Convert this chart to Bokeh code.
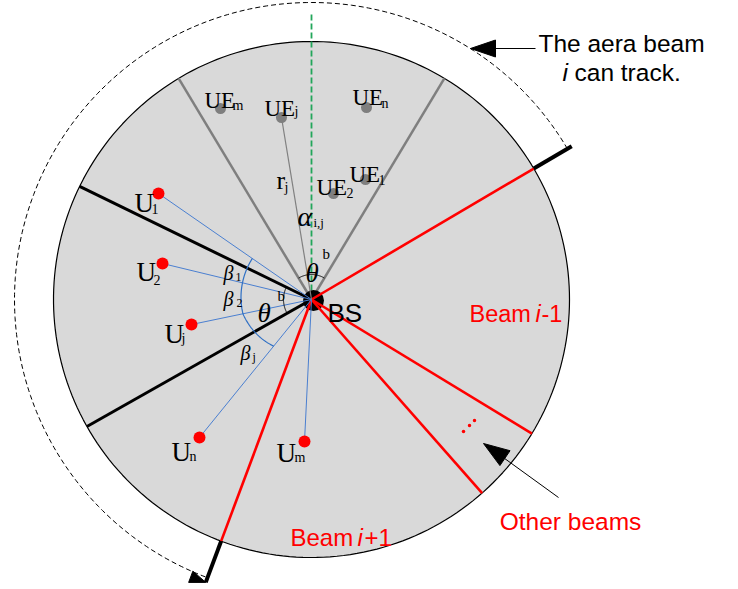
import numpy as np
from bokeh.plotting import figure
from bokeh.models import Range1d
from bokeh.core.properties import value
from bokeh.embed import file_html
from bokeh.resources import INLINE

# ---------------- diagram data (image coordinates, y downwards) ----------------
bs_x, bs_y = 311, 299
cell_radius = 258
track_radius = 297
gray_sector_angles = [121.0, 59.0]          # beam sector of the UEs (theta^b)
black_sector_angles = [154.0, 209.5]        # beam i sector (theta^b)
red_beam_angles = [30.5, -31.3, -48.6, 249.5]
track_start_angle, track_end_angle = 30.5, 249.5
tick_inner, tick_outer = 258, 302
green_axis_len = 287

ue_subs = ["m", "j", "n", "1", "2"]
ue_x = [220, 281, 366, 365, 333]
ue_y = [108, 117, 107, 179, 193]
ue_label_x = [204, 264, 352, 349, 316]
ue_label_y = [100, 108, 97, 174, 187]
ue_sub_x = [232, 294, 381, 378, 346]
ue_sub_y = [105, 111, 103, 179, 192]

u_subs = ["1", "2", "j", "n", "m"]
u_x = [158, 162, 191, 199, 304]
u_y = [193, 263, 324, 437, 441]
u_label_x = [134, 136, 164, 171, 276]
u_label_y = [202, 271, 333, 451, 452]
u_sub_x = [151, 153, 181, 189, 294]
u_sub_y = [208, 279, 338, 456, 457]

beta_subs = ["1", "2", "j"]
beta_x = [223, 223, 240]
beta_y = [272, 298, 352]
beta_sub_x = [235, 236, 252]
beta_sub_y = [276, 302, 356]
beta_r0 = [72, 71, 70]
beta_r1 = [71, 70, 60]

W, H = 738, 589

p = figure(width=W, height=H, output_backend="svg", toolbar_location=None,
           x_range=Range1d(0, W), y_range=Range1d(H, 0),
           x_axis_location=None, y_axis_location=None, min_border=0,
           background_fill_color="white", border_fill_color="white")
p.grid.visible = False
p.outline_line_color = None


def pt(a, r):
    t = np.radians(a)
    return bs_x + r * np.cos(t), bs_y - r * np.sin(t)


def arc(a0, a1, r0, r1, n=80):
    a = np.linspace(a0, a1, n)
    r = np.linspace(r0, r1, n)
    t = np.radians(a)
    return list(bs_x + r * np.cos(t)), list(bs_y - r * np.sin(t))


def head(tx, ty, dx, dy, length, half):
    n = np.hypot(dx, dy)
    ux, uy = dx / n, dy / n
    bx, by = tx - ux * length, ty - uy * length
    return [tx, bx - uy * half, bx + uy * half], [ty, by + ux * half, by - ux * half]


def txt(x, y, s, size, font="Liberation Serif", style="normal", color="black", align="left"):
    p.text(x=[x], y=[y], text=[s], text_font=value(font), text_font_size=f"{size:.1f}px",
           text_font_style=style, text_color=color, text_align=align, text_baseline="alphabetic")


# tracking area dashed arc
xs, ys = arc(track_start_angle, track_end_angle, track_radius, track_radius, 200)
p.line(xs, ys, line_color="black", line_width=1, line_dash="5 3")

# cell
cx, cy = arc(0, 360, cell_radius, cell_radius, 240)
p.patch(cx, cy, fill_color="#d9d9d9", line_color="black", line_width=1.2)

# green reference axis
p.line([bs_x, bs_x], [bs_y, bs_y - green_axis_len], line_color="#22a65a", line_width=1.8, line_dash="6 3")

for a in gray_sector_angles:
    x1, y1 = pt(a, cell_radius)
    p.line([bs_x, x1], [bs_y, y1], line_color="#7f7f7f", line_width=2.5)

for a in black_sector_angles:
    x1, y1 = pt(a, cell_radius)
    p.line([bs_x, x1], [bs_y, y1], line_color="black", line_width=3)

# BS dot
p.scatter([bs_x + 2], [bs_y + 1], size=21, marker="circle", fill_color="black", line_color=None)

for a in red_beam_angles:
    x1, y1 = pt(a, cell_radius)
    p.line([bs_x, x1], [bs_y, y1], line_color="#ff0000", line_width=2.6)

for a in [track_start_angle, track_end_angle]:
    x0, y0 = pt(a, tick_inner)
    x1, y1 = pt(a, tick_outer)
    p.line([x0, x1], [y0, y1], line_color="black", line_width=4)

for x, y in zip(u_x, u_y):
    p.line([x, bs_x], [y, bs_y], line_color="#4a7fd0", line_width=1)

p.line([ue_x[1], bs_x], [ue_y[1], bs_y], line_color="#808080", line_width=1.2)

xs, ys = arc(gray_sector_angles[1], gray_sector_angles[0], 25, 25)
p.line(xs, ys, line_color="black", line_width=1)
xs, ys = arc(black_sector_angles[0], black_sector_angles[1], 28, 28)
p.line(xs, ys, line_color="black", line_width=1)
ang_uej = np.degrees(np.arctan2(bs_y - ue_y[1], ue_x[1] - bs_x))
xs, ys = arc(90, ang_uej, 75, 75)
p.line(xs, ys, line_color="#2e6fc4", line_width=1.2)
u_ang = [np.degrees(np.arctan2(bs_y - y, x - bs_x)) % 360 for x, y in zip(u_x, u_y)]
for i in range(3):
    xs, ys = arc(u_ang[i], u_ang[i + 1], beta_r0[i], beta_r1[i])
    p.line(xs, ys, line_color="#2e6fc4", line_width=1.2)

p.scatter(ue_x, ue_y, size=11, marker="circle", fill_color="#7f7f7f", line_color=None)
p.scatter(u_x, u_y, size=12, marker="circle", fill_color="#ff0000", line_color=None)

dot_x = [463, 469, 474]
dot_y = [431, 425, 420]
p.scatter(dot_x, dot_y, size=3.5, marker="circle", fill_color="#ff0000", line_color=None)

for s, lx, ly, sx, sy in zip(ue_subs, ue_label_x, ue_label_y, ue_sub_x, ue_sub_y):
    txt(lx, ly, "UE", 23)
    txt(sx, sy, s, 14)
for s, lx, ly, sx, sy in zip(u_subs, u_label_x, u_label_y, u_sub_x, u_sub_y):
    txt(lx, ly, "U", 27)
    txt(sx, sy, s, 14)
for s, lx, ly, sx, sy in zip(beta_subs, beta_x, beta_y, beta_sub_x, beta_sub_y):
    txt(lx, ly, "β", 20, style="italic")
    txt(sx, sy, s, 12)
txt(297, 216, "α", 28, style="italic")
txt(313, 222, "i,j", 13)
txt(276, 180, "r", 26)
txt(284, 187, "j", 14)
txt(305, 272, "θ", 27, style="italic")
txt(322, 253, "b", 15)
txt(257, 312, "θ", 27, style="italic")
txt(277, 295, "b", 15)

txt(327, 312, "BS", 26, font="Liberation Sans")

txt(469, 313, "Beam", 23.5, font="Liberation Sans", color="#ff0000")
txt(535, 313, "i", 23.5, font="Liberation Sans", style="italic", color="#ff0000")
txt(541, 313, "-1", 23.5, font="Liberation Sans", color="#ff0000")
txt(290, 537, "Beam", 24, font="Liberation Sans", color="#ff0000")
txt(357, 537, "i", 24, font="Liberation Sans", style="italic", color="#ff0000")
txt(364, 537, "+1", 24, font="Liberation Sans", color="#ff0000")
txt(570, 521, "Other beams", 24.5, font="Liberation Sans", color="#ff0000", align="center")

txt(621, 43, "The aera beam", 24.5, font="Liberation Sans", align="center")
txt(562, 72, "i", 24.5, font="Liberation Sans", style="italic")
txt(574, 72, "can track.", 24.5, font="Liberation Sans")

p.line([535, 490], [48, 48], line_color="black", line_width=1)
hx, hy = head(470, 48, -1, 0, 25, 8.5)
p.patch(hx, hy, fill_color="black", line_color="black")

p.line([558, 500], [497, 455], line_color="black", line_width=1)
hx, hy = head(483, 443, -22, -15, 26, 9)
p.patch(hx, hy, fill_color="black", line_color="black")

tx, ty = pt(track_end_angle, tick_outer)
tang = np.radians(track_end_angle)
hx, hy = head(tx, ty, -np.sin(tang), -np.cos(tang), 16, 6)
p.patch(hx, hy, fill_color="black", line_color="black")

open("out.html", "w").write(file_html(p, INLINE))
